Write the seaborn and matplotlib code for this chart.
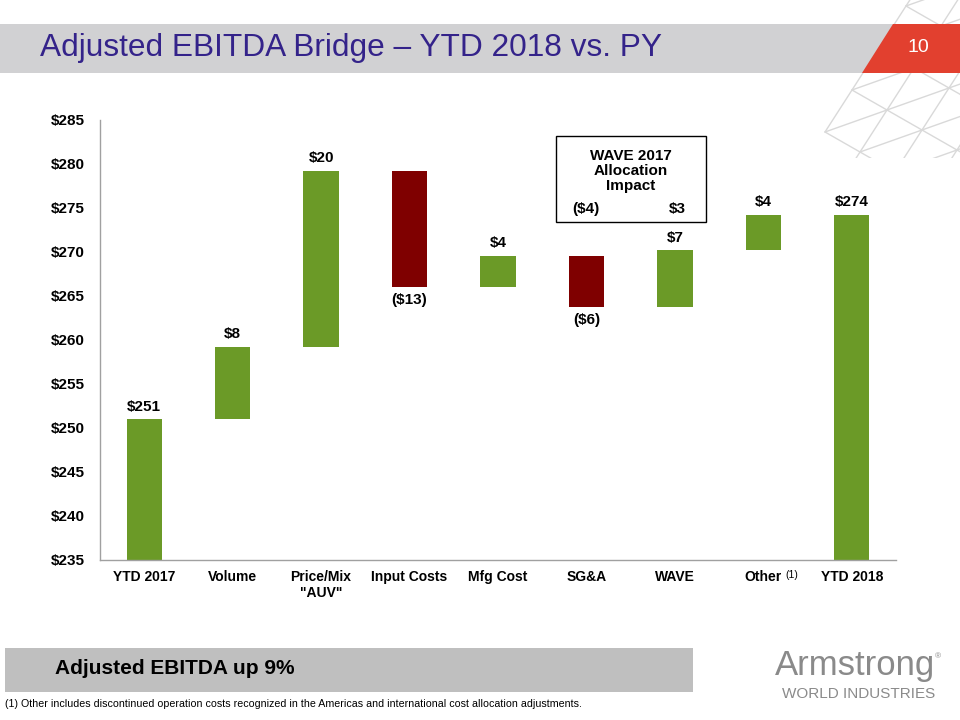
import matplotlib
matplotlib.use("Agg")
import matplotlib.pyplot as plt
from matplotlib.patches import Rectangle, Polygon
import seaborn as sns
import pandas as pd
import numpy as np

# ---- data ----
categories = ["YTD 2017", "Volume", "Price/Mix\n\"AUV\"", "Input Costs", "Mfg Cost",
              "SG&A", "WAVE", "Other", "YTD 2018"]
changes = [251.0, 8.2, 20.0, -13.2, 3.6, -5.9, 6.5, 4.0, None]
value_labels = ["$251", "$8", "$20", "($13)", "$4", "($6)", "$7", "$4", "$274"]
y_ticks = [235, 240, 245, 250, 255, 260, 265, 270, 275, 280, 285]
wave_box_title = "WAVE 2017\nAllocation\nImpact"
wave_box_values = ["($4)", "$3"]

# waterfall computation
bottoms, heights = [], []
running = 0.0
for i, c in enumerate(changes):
    if i == 0:
        bottoms.append(235.0); heights.append(c - 235.0); running = c
    elif c is None:
        bottoms.append(235.0); heights.append(running - 235.0)
    else:
        lo = min(running, running + c)
        bottoms.append(lo); heights.append(abs(c)); running += c

df = pd.DataFrame({"cat": categories, "height": heights, "bottom": bottoms})

GREEN = "#6B9A27"
RED = "#7F0000"
colors = []
for i, c in enumerate(changes):
    if c is None or i == 0 or c >= 0:
        colors.append(GREEN)
    else:
        colors.append(RED)

NARROW = ["Liberation Sans Narrow", "Liberation Sans", "DejaVu Sans"]
ARIAL = ["Liberation Sans", "DejaVu Sans"]

sns.set_style("white")
plt.rcParams["font.family"] = ARIAL
plt.rcParams["text.color"] = "black"
plt.rcParams["xtick.color"] = "black"
plt.rcParams["ytick.color"] = "black"
plt.rcParams["axes.labelcolor"] = "black"

fig = plt.figure(figsize=(9.6, 7.2), dpi=100)
W, H = 960, 720


def fx(x):
    return x / W


def fy(y):
    return 1 - y / H


# ---- decorative lattice (top right), drawn in a pixel-space background axes ----
bg = fig.add_axes([0, 0, 1, 1], zorder=-1)
bg.set_xlim(0, W)
bg.set_ylim(H, 0)
bg.axis("off")
clip = Rectangle((800, 0), 160, 158, transform=bg.transData, facecolor="none", edgecolor="none")
bg.add_patch(clip)
O = np.array([852.0, 90.0])
va = np.array([-27.0, 42.0])
vb = np.array([35.0, 20.0])


def node(i, j):
    return O + i * va + j * vb


def outside(i, j):
    return j == 0 and i >= 2


for i in range(-5, 4):
    for j in range(0, 6):
        p = node(i, j)
        for (qi, qj) in ((i + 1, j), (i, j + 1), (i - 1, j + 1)):
            if outside(i, j) or outside(qi, qj):
                continue
            q = node(qi, qj)
            ln, = bg.plot([p[0], q[0]], [p[1], q[1]], color="#D9D9D9", lw=1.0)
            ln.set_clip_path(clip)

# ---- title band ----
fig.add_artist(Rectangle((0, fy(73)), fx(893), fy(24) - fy(73), facecolor="#D1D1D3",
                         edgecolor="none", zorder=1))
fig.add_artist(Polygon([(fx(893), fy(24)), (fx(960), fy(24)), (fx(960), fy(73)), (fx(862), fy(73))],
                       closed=True, facecolor="#E2402F", edgecolor="none", zorder=1))
fig.text(fx(40), fy(48), "Adjusted EBITDA Bridge \u2013 YTD 2018 vs. PY", family=NARROW,
         fontsize=22.8, color="#34238A", va="center", ha="left", zorder=3)
fig.text(fx(918), fy(48), "10", family=NARROW, fontsize=14, color="white",
         va="center", ha="center", zorder=3)

# ---- chart ----
ax = fig.add_axes([fx(100), fy(560), fx(896) - fx(100), (560 - 120) / H])
ax.patch.set_alpha(0)
sns.barplot(data=df, x="cat", y="height", bottom=df["bottom"].values, color=GREEN,
            width=0.4, ax=ax, saturation=1, errorbar=None)
for p, col in zip(ax.patches, colors):
    p.set_facecolor(col)
    p.set_edgecolor("none")

ax.set_ylim(235, 285)
ax.set_xlim(-0.5, len(categories) - 0.5)
ax.set_yticks(y_ticks)
ax.set_yticklabels([f"${v}" for v in y_ticks], fontweight="bold", fontsize=11)
ax.set_xticks(range(len(categories)))
ax.set_xticklabels(categories, fontweight="bold", fontsize=10, family=NARROW)
ax.set_xticks(np.arange(-0.5, len(categories), 1.0), minor=True)
ax.tick_params(axis="x", which="major", length=0, pad=7)
ax.tick_params(axis="x", which="minor", length=5, color="#A0A0A0", direction="out")
ax.tick_params(axis="y", length=5, color="#A0A0A0", direction="out", pad=6)
ax.set_xlabel("")
ax.set_ylabel("")
for s in ["top", "right"]:
    ax.spines[s].set_visible(False)
for s in ["left", "bottom"]:
    ax.spines[s].set_color("#A0A0A0")
    ax.spines[s].set_linewidth(1.0)

# superscript (1) next to "Other"
ax.annotate("(1)", xy=(7, 235), xycoords="data", xytext=(16, -11), textcoords="offset points",
            fontsize=7.5, family=NARROW, ha="left", va="center", annotation_clip=False)

# value labels
for i, (c, b, h, lab) in enumerate(zip(changes, bottoms, heights, value_labels)):
    if c is not None and i > 0 and c < 0:
        ax.annotate(lab, xy=(i, b), xytext=(0, -4), textcoords="offset points",
                    ha="center", va="top", fontsize=11, fontweight="bold")
    else:
        ax.annotate(lab, xy=(i, b + h), xytext=(0, 4), textcoords="offset points",
                    ha="center", va="bottom", fontsize=11, fontweight="bold")

# WAVE annotation box
fig.add_artist(Rectangle((fx(556), fy(222)), fx(706) - fx(556), fy(136) - fy(222),
                         facecolor="white", edgecolor="black", lw=1.0, zorder=5))
fig.text(fx(631), fy(171), wave_box_title, ha="center", va="center", fontsize=11,
         fontweight="bold", linespacing=1.05, zorder=6)
fig.text(fx(586), fy(209), wave_box_values[0], ha="center", va="center", fontsize=11,
         fontweight="bold", zorder=6)
fig.text(fx(677), fy(209), wave_box_values[1], ha="center", va="center", fontsize=11,
         fontweight="bold", zorder=6)

# ---- bottom banner ----
fig.add_artist(Rectangle((fx(5), fy(692)), fx(693) - fx(5), fy(648) - fy(692),
                         facecolor="#BFBFBF", edgecolor="none", zorder=1))
fig.text(fx(55), fy(668), "Adjusted EBITDA up 9%", family=ARIAL, fontsize=15,
         fontweight="bold", va="center", ha="left", zorder=3)
fig.text(fx(5), fy(704), "(1) Other includes discontinued operation costs recognized in the Americas "
         "and international cost allocation adjustments.", family=NARROW, fontsize=7.7,
         va="center", ha="left")

# logo
fig.text(fx(855), fy(665), "Armstrong", family=ARIAL, fontsize=25, color="#8A8A8A",
         va="center", ha="center")
fig.text(fx(938), fy(657), "\u00ae", family=ARIAL, fontsize=6, color="#8A8A8A",
         va="center", ha="center")
fig.text(fx(859), fy(694), "WORLD INDUSTRIES", family=ARIAL, fontsize=11, color="#8A8A8A",
         va="center", ha="center")

fig.savefig("out.png", dpi=100)
